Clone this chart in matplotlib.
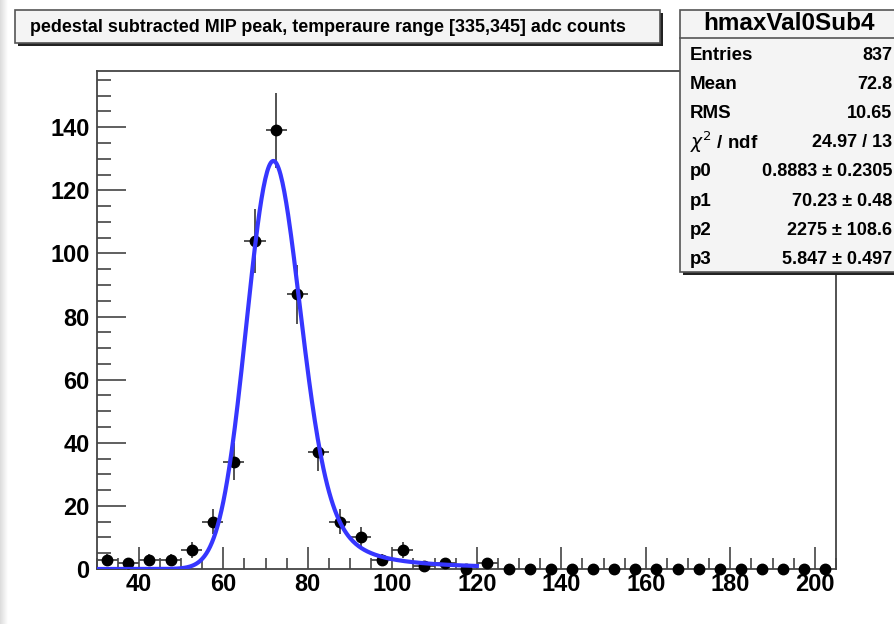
import numpy as np
import matplotlib.pyplot as plt
from matplotlib.patches import Rectangle

plt.rcParams['font.family'] = ['Liberation Sans', 'DejaVu Sans']

# Histogram (bin width 5, range 30-205)
bin_centers = [32.5, 37.5, 42.5, 47.5, 52.5, 57.5, 62.5, 67.5, 72.5, 77.5,
               82.5, 87.5, 92.5, 97.5, 102.5, 107.5, 112.5, 117.5, 122.5, 127.5,
               132.5, 137.5, 142.5, 147.5, 152.5, 157.5, 162.5, 167.5, 172.5, 177.5,
               182.5, 187.5, 192.5, 197.5, 202.5]
counts = [3, 2, 3, 3, 6, 15, 34, 104, 139, 87,
          37, 15, 10, 3, 6, 1, 2, 0, 2, 0,
          0, 0, 0, 0, 0, 0, 0, 0, 0, 0,
          0, 0, 0, 0, 0]
bin_width = 5

# Fit parameters (Landau width, MPV, area, gauss sigma)
fit_params = [0.8883, 70.23, 2275, 5.847]
fit_range = [30, 120]

title = "pedestal subtracted MIP peak, temperaure range [335,345] adc counts"
stats_name = "hmaxVal0Sub4"
stats_labels = ["Entries", "Mean", "RMS", r"$\chi^2$ / ndf", "p0", "p1", "p2", "p3"]
stats_values = ["837", "72.8", "10.65", "24.97 / 13", "0.8883 \u00b1 0.2305",
                "70.23 \u00b1 0.48", "2275 \u00b1 108.6", "5.847 \u00b1 0.497"]


def landau_pdf_table():
    # numerical integral of the Landau density on a grid of lambda
    t = np.concatenate([np.linspace(0, 1, 4001), np.linspace(1, 70, 8001)[1:]])
    tl = np.zeros_like(t)
    tl[1:] = t[1:] * np.log(t[1:])
    lam = np.concatenate([np.linspace(-3.5, 20, 1200), np.linspace(20, 110, 400)[1:]])
    out = np.empty_like(lam)
    for i in range(0, len(lam), 100):
        l = lam[i:i + 100, None]
        f = np.exp(-tl[None, :] - l * t[None, :]) * np.sin(np.pi * t[None, :])
        out[i:i + 100] = np.trapezoid(f, t, axis=1) / np.pi
    return lam, np.clip(out, 0, None)


def langaus(x, par):
    lam_tab, pdf_tab = landau_pdf_table()
    mpc = par[1] + 0.22278298 * par[0]
    res = []
    for xx in x:
        xp = np.linspace(xx - 5 * par[3], xx + 5 * par[3], 201)
        fl = np.interp((xp - mpc) / par[0], lam_tab, pdf_tab, left=0, right=0) / par[0]
        g = np.exp(-0.5 * ((xx - xp) / par[3]) ** 2) / (np.sqrt(2 * np.pi) * par[3])
        res.append(par[2] * np.trapezoid(fl * g, xp))
    return np.array(res)


W, H = 894, 624
fig = plt.figure(figsize=(W / 100, H / 100), dpi=100)

# light grey strip at the left edge
strip = fig.add_axes([0, 0, 8 / W, 1])
strip.imshow(np.linspace(0.86, 1.0, 50)[None, :], cmap='gray', vmin=0, vmax=1,
             aspect='auto', extent=[0, 1, 0, 1])
strip.axis('off')

ax = fig.add_axes([96.6 / W, 1 - 569 / H, (836 - 96.6) / W, (569 - 71) / H])

x = np.array(bin_centers)
y = np.array(counts, dtype=float)
nz = y > 0
ax.errorbar(x[nz], y[nz], xerr=bin_width / 2, yerr=np.sqrt(y[nz]), fmt='none',
            ecolor='#444444', elinewidth=1.3, capsize=0, zorder=2)
ax.plot(x, y, 'o', color='black', markersize=7.5, zorder=3, clip_on=False)

xf = np.linspace(fit_range[0], fit_range[1], 400)
ax.plot(xf, langaus(xf, fit_params), color='#3636ff', linewidth=3, zorder=4)

ax.set_xlim(30, 205)
ax.set_ylim(0, 157.8)
ax.set_xticks(range(40, 201, 20))
ax.set_xticks(range(30, 206, 5), minor=True)
ax.set_yticks(range(0, 141, 20))
ax.set_yticks(range(0, 156, 5), minor=True)
ax.tick_params(which='both', direction='in', color='#444444', width=1.2,
               labelsize=17, top=False, right=False)
ax.tick_params(axis='x', which='major', length=16, pad=3)
ax.tick_params(axis='x', which='minor', length=8)
ax.tick_params(axis='y', which='major', length=21, pad=5)
ax.tick_params(axis='y', which='minor', length=10)
for lab in ax.get_xticklabels() + ax.get_yticklabels():
    lab.set_fontweight('bold')
for s in ax.spines.values():
    s.set_color('#444444')
    s.set_linewidth(1.3)


def fbox(x0, y0, x1, y1):
    # box in pixel coordinates with ROOT-like shadow
    fig.patches.append(Rectangle((x0 / W + 3 / W, 1 - (y1 + 3) / H), (x1 - x0) / W, (y1 - y0) / H,
                                 transform=fig.transFigure, facecolor='#222222',
                                 edgecolor='none', zorder=5))
    fig.patches.append(Rectangle((x0 / W, 1 - y1 / H), (x1 - x0) / W, (y1 - y0) / H,
                                 transform=fig.transFigure, facecolor='#f4f4f4',
                                 edgecolor='#555555', linewidth=1.2, zorder=6))


# title box
fbox(15, 10, 660, 43)
fig.text(30 / W, 1 - 27 / H, title, fontsize=12.9, fontweight='bold',
         va='center', ha='left', zorder=7)

# stats box
fbox(680, 10, 905, 272)
fig.lines.append(plt.Line2D([680 / W, 1], [1 - 38 / H, 1 - 38 / H],
                            transform=fig.transFigure, color='#555555', lw=1.2, zorder=7))
fig.text(789 / W, 1 - 24 / H, stats_name, fontsize=17.5, fontweight='bold',
         ha='center', va='center', zorder=7)
for i, (lab, val) in enumerate(zip(stats_labels, stats_values)):
    yy = 1 - (55 + i * 29.2) / H
    fig.text(690 / W, yy, lab, fontsize=13.5, fontweight='bold', ha='left', va='center', zorder=7)
    fig.text(892 / W, yy, val, fontsize=13, fontweight='bold', ha='right', va='center', zorder=7)

fig.savefig('out.png', dpi=100)
